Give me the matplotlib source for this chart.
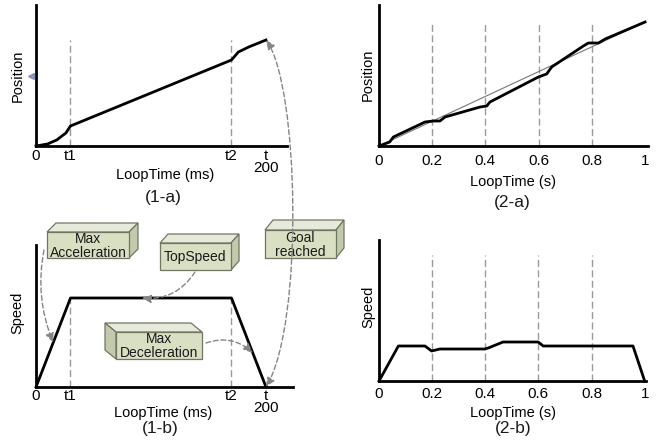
import matplotlib
matplotlib.use("Agg")
import matplotlib.pyplot as plt
from matplotlib.patches import Polygon, FancyArrowPatch
from matplotlib.path import Path

plt.rcParams['font.family'] = ['Liberation Sans', 'DejaVu Sans']
plt.rcParams['font.size'] = 10
plt.rcParams['text.color'] = '#1a1a1a'

W, H = 658, 444

# ---- data (1): ideal profile, time in ms ----
t1, t2, t_end = 30, 170, 200
pos_ms = [0, 10, 18, 26, 30, 170, 176, 185, 200]
pos_1a = [0, 2, 6, 13, 20, 86, 94, 99, 106]
speed_ms = [0, t1, t2, t_end]
speed_1b = [0, 89, 89, 0]
ticks_ms = [0, t1, t2, t_end]
tick_labels_ms = ['0', 't1', 't2', 't\n200']

# ---- data (2): measured profile, time in s ----
loop_s = [0, 0.04, 0.054, 0.173, 0.204, 0.229, 0.248, 0.38, 0.405, 0.417,
          0.599, 0.63, 0.649, 0.768, 0.787, 0.825, 0.85, 1.0]
pos_2a = [0, 4, 9, 24, 25, 25, 29, 39, 40, 44, 69, 72, 79, 100, 103, 103, 107, 124]
ideal_s = [0, 1]
ideal_2a = [0, 124]
speed_s = [0, 0.073, 0.173, 0.198, 0.229, 0.398, 0.411, 0.467, 0.599, 0.618, 0.956, 1.0]
speed_2b = [0, 35, 35, 30, 32, 32, 33, 39, 39, 35, 35, 0]
ticks_s = [0, 0.2, 0.4, 0.6, 0.8, 1]
tick_labels_s = ['0', '0.2', '0.4', '0.6', '0.8', '1']
grid_s = [0.2, 0.4, 0.6, 0.8]

fig = plt.figure(figsize=(W / 100, H / 100), dpi=100)


def make_ax(left, top, right, bottom, xmax, ymax, pad):
    ax = fig.add_axes([left / W, 1 - bottom / H, (right - left) / W, (bottom - top) / H])
    ax.set_xlim(0, xmax)
    ax.set_ylim(0, ymax)
    ax.spines['top'].set_visible(False)
    ax.spines['right'].set_visible(False)
    ax.spines['left'].set_linewidth(2)
    ax.spines['bottom'].set_linewidth(2)
    ax.set_yticks([])
    ax.patch.set_alpha(0)
    ax.tick_params(axis='x', length=0, pad=pad, labelsize=11)
    return ax


grid_kw = dict(color='#9a9a9a', lw=1, linestyle=(0, (5, 2.5)))
line_kw = dict(color='black', lw=2, clip_on=False, solid_joinstyle='round')

# (1-a)
ax1a = make_ax(36, 5, 287, 146, 218.3, 141, 2)
ax1a.vlines([t1, t2], 0, 106, **grid_kw)
ax1a.plot(pos_ms, pos_1a, **line_kw)
ax1a.set_xticks(ticks_ms, tick_labels_ms)
ax1a.set_xticks([t_end], minor=True)
ax1a.tick_params(axis='x', which='minor', direction='inout', length=11, width=1.2)

# (1-b)
ax1b = make_ax(36, 245, 293, 387, 223.5, 142, 1.3)
ax1b.vlines([t1, t2], 0, 89, **grid_kw)
ax1b.plot(speed_ms, speed_1b, **line_kw)
ax1b.set_xticks(ticks_ms, tick_labels_ms)

for ax in (ax1a, ax1b):
    for lab in ax.get_xticklabels():
        lab.set_linespacing(0.85)

# (2-a)
ax2a = make_ax(379, 5, 648, 146, 1.011, 141, 5.6)
ax2a.vlines(grid_s, 0, 124, **grid_kw)
ax2a.plot(ideal_s, ideal_2a, color='#777777', lw=0.8)
ax2a.plot(loop_s, pos_2a, **line_kw)
ax2a.set_xticks(ticks_s, tick_labels_s)
ax2a.set_xticks([1], minor=True)
ax2a.tick_params(axis='x', which='minor', direction='inout', length=7, width=1.2)

# (2-b)
ax2b = make_ax(379, 240, 646, 381, 1.005, 141, 4.2)
ax2b.vlines(grid_s, 0, 126, **grid_kw)
ax2b.plot(speed_s, speed_2b, **line_kw)
ax2b.set_xticks(ticks_s, tick_labels_s)

# overlay in pixel coordinates for labels, boxes and arrows
over = fig.add_axes([0, 0, 1, 1], zorder=10)
over.set_xlim(0, W)
over.set_ylim(H, 0)
over.axis('off')
over.patch.set_alpha(0)

labels = [
    (ax1a, 'Position', (18, 76), 'LoopTime (ms)', (165, 175)),
    (ax1b, 'Speed', (17, 313), 'LoopTime (ms)', (163, 413)),
    (ax2a, 'Position', (368, 75), 'LoopTime (s)', (513, 182)),
    (ax2b, 'Speed', (368, 307), 'LoopTime (s)', (513, 413)),
]
for ax, ylab, ypos, xlab, xpos in labels:
    ax.set_ylabel(ylab, fontsize=10.5, va='center')
    ax.yaxis.set_label_coords(*ypos, transform=over.transData)
    ax.set_xlabel(xlab, fontsize=10.5, va='center')
    ax.xaxis.set_label_coords(*xpos, transform=over.transData)

for txt, (x, y) in [('(1-a)', (163, 197)), ('(1-b)', (160, 428)),
                    ('(2-a)', (512, 202)), ('(2-b)', (513, 428))]:
    over.text(x, y, txt, fontsize=12.5, ha='center', va='center')

over.plot(31, 76, marker='<', ms=4, color='#6a74a8', alpha=0.7)

face, top_c, side_c, edge = '#d9dfc3', '#e7eadb', '#c3c9ab', '#6f7762'


def draw_box(x0, y0, w, h, dx, dy, text):
    top = [(x0, y0), (x0 + dx, y0 + dy), (x0 + w + dx, y0 + dy), (x0 + w, y0)]
    if dx > 0:
        side = [(x0 + w, y0), (x0 + w + dx, y0 + dy), (x0 + w + dx, y0 + h + dy), (x0 + w, y0 + h)]
    else:
        side = [(x0, y0), (x0 + dx, y0 + dy), (x0 + dx, y0 + h + dy), (x0, y0 + h)]
    front = [(x0, y0), (x0 + w, y0), (x0 + w, y0 + h), (x0, y0 + h)]
    for pts, c in [(top, top_c), (side, side_c), (front, face)]:
        over.add_patch(Polygon(pts, closed=True, fc=c, ec=edge, lw=0.9, zorder=2))
    over.text(x0 + w / 2, y0 + h / 2 + 0.5, text, ha='center', va='center',
              fontsize=10, linespacing=1.0, zorder=3)


draw_box(47, 232, 82, 26, 9, -9, 'Max\nAcceleration')
draw_box(160, 243, 71, 27, 8, -9, 'TopSpeed')
draw_box(265, 230, 71, 28, 8, -10, 'Goal\nreached')
draw_box(116, 332, 86, 27, -11, -9, 'Max\nDeceleration')


def to_over(ax, x, y):
    return over.transData.inverted().transform(ax.transData.transform((x, y)))


arrow_kw = dict(arrowstyle='-|>,head_length=0.5,head_width=0.22', color='#858585',
                lw=1, linestyle=(0, (3.5, 2)), shrinkA=0, shrinkB=0, mutation_scale=11)

over.annotate('', xy=to_over(ax1b, 15, 44.5), xytext=(44, 250),
              arrowprops=dict(connectionstyle='arc3,rad=0.15', **arrow_kw), zorder=5)
over.annotate('', xy=to_over(ax1b, 92, 89), xytext=(195, 272),
              arrowprops=dict(connectionstyle='arc3,rad=-0.3', **arrow_kw), zorder=5)
over.annotate('', xy=to_over(ax1b, 188.5, 34), xytext=(206, 343),
              arrowprops=dict(connectionstyle='arc3,rad=-0.3', **arrow_kw), zorder=5)

# long link from the end of (1-a) to the end of (1-b)
p0 = to_over(ax1a, t_end, pos_1a[-1])
p3 = to_over(ax1b, t_end, speed_1b[-1])
link = Path([p0, (p0[0] + 33, p0[1] + 46), (p0[0] + 38, p3[1] - 64), p3],
            [Path.MOVETO, Path.CURVE4, Path.CURVE4, Path.CURVE4])
over.add_patch(FancyArrowPatch(path=link, arrowstyle='<|-|>,head_length=0.5,head_width=0.22',
                               mutation_scale=11, color='#858585', lw=1,
                               linestyle=(0, (3.5, 2)), zorder=5))

fig.savefig('out.png', dpi=100)
